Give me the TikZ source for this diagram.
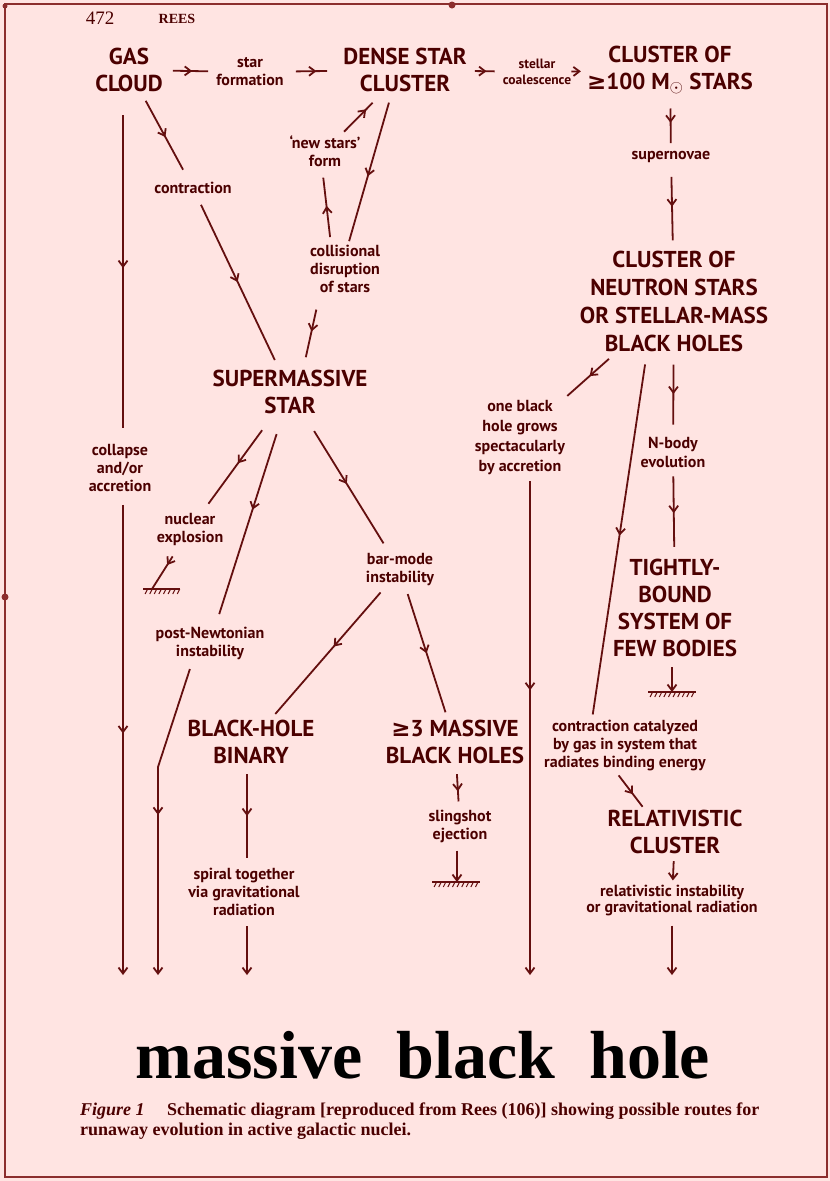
\documentclass[tikz,border=0pt]{standalone}
\usepackage{fontspec}
\setmainfont{Liberation Serif}
\newfontfamily\handfont{PT Sans}
\newfontfamily\symfont{DejaVu Sans}
\usetikzlibrary{arrows.meta,decorations.markings}
\definecolor{paper}{RGB}{255,228,226}
\definecolor{ink}{RGB}{75,0,0}
\definecolor{wireink}{RGB}{100,15,15}
\definecolor{rim}{RGB}{140,45,45}
\tikzset{
  big/.style={font=\handfont\bfseries\fontsize{23}{27}\selectfont,align=center,inner sep=0pt,text=ink},
  small/.style={font=\handfont\bfseries\fontsize{16}{18}\selectfont,align=center,inner sep=0pt,text=ink},
  tiny/.style={font=\handfont\bfseries\fontsize{13.5}{16}\selectfont,align=center,inner sep=0pt,text=ink},
  wire/.style={draw=wireink,line width=1.8pt},
  mid/.style={postaction={decorate},decoration={markings,
    mark=at position #1 with {\arrow{Straight Barb[length=6pt,width=9pt]}}}},
  mid/.default=0.5,
}
% ground symbol: coordinate, left and right offset, number of ticks
\newcommand{\earth}[4]{%
  \draw[wire] ([xshift=#2pt]#1) -- ([xshift=#3pt]#1);
  \foreach \k in {1,...,#4}
    \draw[wireink,line width=1pt] ([xshift=#2pt+\k*4.6pt]#1) -- ++(-2.5,5);
}
\begin{document}
\begin{tikzpicture}[x=1pt,y=-1pt,>={Straight Barb[length=6pt,width=9pt]}]
\useasboundingbox (0,0) rectangle (830,1181);
\fill[paper] (0,0) rectangle (830,1181);
\draw[rim,line width=1.6pt] (5,4) rectangle (827,1177);
\fill[rim] (452,5) circle (3.5) (5,597) circle (3.5) (5,6) circle (2.5);

% page head
\node[font=\fontsize{19}{19}\selectfont,text=ink] (folio) at (100,18) {472};
\node[font=\bfseries\fontsize{14}{14}\selectfont,text=ink] (runhead) at (177,19) {REES};

% top row
\node[big] (gas) at (129,70) {GAS\\CLOUD};
\node[small] (sf) at (250,72) {star\\formation};
\node[big] (dense) at (405,70) {DENSE STAR\\CLUSTER};
\node[tiny] (stel) at (537,72) {stellar\\coalescence};
\node[big] (c100) at (670,70) {CLUSTER OF\\{\symfont ≥}100 M$_\odot$ STARS};

% right column
\node[small] (supn) at (671,157) {supernovae};
\node[big,font=\handfont\bfseries\fontsize{23}{28}\selectfont] (ns) at (674,301) {CLUSTER OF\\NEUTRON STARS\\OR STELLAR-MASS\\BLACK HOLES};
\node[small,font=\handfont\bfseries\fontsize{16}{20}\selectfont] (onebh) at (520,438) {one black\\hole grows\\spectacularly\\by accretion};
\node[small,font=\handfont\bfseries\fontsize{16}{19}\selectfont] (nbody) at (673,452) {N-body\\evolution};
\node[big] (tight) at (675,608) {TIGHTLY-\\BOUND\\SYSTEM OF\\FEW BODIES};
\node[small] (cat) at (625,745) {contraction catalyzed\\by gas in system that\\radiates binding energy};
\node[big] (rel) at (675,832) {RELATIVISTIC\\CLUSTER};
\node[small,font=\handfont\bfseries\fontsize{16}{16}\selectfont] (relinst) at (672,900) {relativistic instability\\or gravitational radiation};

% left and middle
\node[small] (contr) at (193,188) {contraction};
\node[small] (newst) at (325,151) {‘new stars’\\form};
\node[small] (colls) at (345,269) {collisional\\disruption\\of stars};
\node[big] (sms) at (290,392) {SUPERMASSIVE\\STAR};
\node[small] (coll) at (120,468) {collapse\\and/or\\accretion};
\node[small] (nucl) at (190,529) {nuclear\\explosion};
\node[small] (bar) at (400,570) {bar-mode\\instability};
\node[small] (pn) at (210,643) {post-Newtonian\\instability};
\node[big] (bhb) at (251,742) {BLACK-HOLE\\BINARY};
\node[big] (m3) at (455,742) {{\symfont ≥}3 MASSIVE\\BLACK HOLES};
\node[small] (sling) at (460,826) {slingshot\\ejection};
\node[small] (spiral) at (244,892) {spiral together\\via gravitational\\radiation};

\coordinate (floor) at (400,975);
\coordinate (kink) at (158,767);
\coordinate (g1) at (672,692);
\coordinate (g2) at (152,589);
\coordinate (g3) at (457,882);

% top row
\draw[wire,mid=0.55,shorten <=10pt,shorten >=8pt] (gas) -- (sf);
\draw[wire,mid=0.55,shorten <=12pt,shorten >=16pt] (sf) -- (dense);
\draw[wire,mid=0.55,shorten <=8pt,shorten >=8pt] (dense) -- (stel);
\draw[wire,->,shorten >=6pt] (stel) -- (c100);

% right column
\draw[wire,mid,shorten <=14pt,shorten >=8pt] (c100) -- (supn);
\draw[wire,mid,shorten <=14pt,shorten >=10pt] (supn) -- (ns);
\draw[wire,mid,shorten <=11pt,shorten >=7pt] (ns) -- (onebh);
\draw[wire,mid=0.43,->,shorten <=6pt] ([xshift=10pt]onebh.south) -- ([xshift=10pt]onebh.south |- floor);
\draw[wire,mid,shorten <=13pt,shorten >=5pt] ([xshift=-27pt]ns.south) -- ([xshift=-33pt]cat.north);
\draw[wire,mid,shorten <=13pt,shorten >=12pt] (ns) -- (nbody);
\draw[wire,mid,shorten <=9pt,shorten >=12pt] (nbody) -- (tight);
\draw[wire,->,shorten <=10pt] (tight.south -| g1) -- (g1);
\earth{g1}{-24}{24}{10}
\draw[wire,mid=0.6,shorten <=6pt,shorten >=4pt] ([xshift=-10pt]cat.south) -- ([xshift=-30pt]rel.north);
\draw[wire,->,shorten <=7pt,shorten >=4pt] (rel) -- (relinst);
\draw[wire,->,shorten <=10pt] (relinst.south -| g1) -- (g1 |- floor);

% left and middle
\draw[wire,mid,shorten <=23pt,shorten >=16pt] ([xshift=-6pt]gas.south) -- ([xshift=3pt]coll.north);
\draw[wire,mid,->,shorten <=13pt] ([xshift=3pt]coll.south) -- ([xshift=3pt]coll.south |- floor);
\draw[wire,mid,shorten <=10pt,shorten >=14pt] (gas) -- (contr);
\draw[wire,mid,shorten <=12pt,shorten >=11pt] (contr) -- (sms);
\draw[wire,mid=0.6,shorten <=5pt,shorten >=15pt] (newst) -- (dense);
\draw[wire,mid=0.55,shorten <=11pt,shorten >=4pt] ([xshift=-13pt]dense.south) -- ([xshift=3pt]colls.north);
\draw[wire,mid,shorten <=8pt,shorten >=11pt] ([xshift=-14pt]colls.north) -- ([xshift=-3pt]newst.south);
\draw[wire,mid,shorten <=17pt,shorten >=13pt] ([xshift=-25pt]colls.south) -- ([xshift=13pt]sms.north);
\draw[wire,mid,shorten <=20pt,shorten >=11pt] (sms) -- (nucl);
\draw[wire,mid=0.45,shorten <=13pt] (nucl) -- (g2);
\earth{g2}{-9}{28}{8}
\draw[wire,mid=0.45,shorten <=21pt,shorten >=13pt] (sms) -- (pn);
\draw[wire,shorten <=10pt] ([xshift=-17pt]pn.south) -- (kink);
\draw[wire,mid=0.23,->] (kink) -- (kink |- floor);
\draw[wire,mid,shorten <=20pt,shorten >=12pt] (sms) -- (bar);
\draw[wire,mid=0.45,shorten <=8pt,shorten >=8pt] (bar) -- (bhb);
\draw[wire,mid,shorten <=8pt,shorten >=8pt] (bar) -- (m3);
\draw[wire,mid,shorten <=10pt,shorten >=10pt] ([xshift=-4pt]bhb.south) -- ([xshift=3pt]spiral.north);
\draw[wire,->,shorten <=10pt] ([xshift=3pt]spiral.south) -- ([xshift=3pt]spiral.south |- floor);
\draw[wire,mid=0.6,shorten <=10pt,shorten >=8pt] (m3) -- (sling);
\draw[wire,->,shorten <=8pt] (sling.south -| g3) -- (g3);
\earth{g3}{-25}{23}{10}

% result and caption
\node[font=\bfseries\fontsize{68}{68}\selectfont,text=black,anchor=base] (mbh) at (423,1078) {massive\ \ black\ \ hole};
\node[font=\bfseries\fontsize{18}{20}\selectfont,text=ink,align=left,anchor=north west,inner sep=0pt] (caption) at (80,1103)
  {\textit{Figure 1}\quad\ Schematic diagram [reproduced from Rees (106)] showing possible routes for\\runaway evolution in active galactic nuclei.};
\end{tikzpicture}
\end{document}
